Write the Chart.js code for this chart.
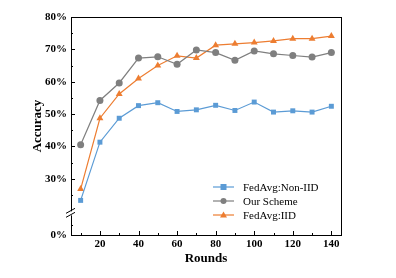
<!DOCTYPE html>
<html>
<head>
<meta charset="utf-8">
<script src="https://cdn.jsdelivr.net/npm/chart.js@4/dist/chart.umd.min.js"></script>
<style>
  html, body { margin: 0; padding: 0; background: #fff; }
  #wrap { width: 396px; height: 278px; }
</style>
</head>
<body>
<div id="wrap"><canvas id="myChart"></canvas></div>
<script>
// data
var rounds = [10, 20, 30, 40, 50, 60, 70, 80, 90, 100, 110, 120, 130, 140];
var nonIid = [23.3, 41.3, 48.7, 52.6, 53.5, 50.8, 51.3, 52.7, 51.1, 53.7, 50.6, 51.0, 50.6, 52.4];
var ourScheme = [40.5, 54.2, 59.6, 67.3, 67.7, 65.4, 69.8, 69.0, 66.6, 69.5, 68.6, 68.1, 67.6, 69.0];
var iid = [26.8, 48.7, 56.2, 61.0, 65.0, 68.0, 67.3, 71.3, 71.7, 72.1, 72.6, 73.3, 73.3, 74.1];
var seriesNames = ["FedAvg:Non-IID", "Our Scheme", "FedAvg:IID"];
var yTicks = [30, 40, 50, 60, 70, 80];
var xTicks = [20, 40, 60, 80, 100, 120, 140];

var Y_BOTTOM = 12.6; // where the "0%" label sits under the axis break
var FONT = "'Liberation Serif', 'Times New Roman', serif";

function punkty(vals) {
  var out = [];
  for (var i = 0; i < rounds.length; i++) {
    out.push({ x: rounds[i], y: vals[i] });
  }
  return out;
}

var kolory = ["#5b9bd5", "#7f7f7f", "#ed7d31"];
var ksztalty = ["rect", "circle", "triangle"];
var wartosci = [nonIid, ourScheme, iid];

var datasets = [];
for (var id = 0; id < 3; id++) {
  datasets.push({
    label: seriesNames[id],
    data: punkty(wartosci[id]),
    borderColor: kolory[id],
    backgroundColor: kolory[id],
    borderWidth: 1.2,
    pointStyle: ksztalty[id],
    pointRadius: id == 2 ? 4 : 3.5,
    pointBorderWidth: 0,
    tension: 0
  });
}

// frame, inward ticks, axis break and legend
const ramkaPlugin = {
  id: "ramka",
  afterDraw(chart) {
    var ctx = chart.ctx;
    var a = chart.chartArea;
    var xs = chart.scales.x;
    var ys = chart.scales.y;
    ctx.save();
    ctx.strokeStyle = "#000";
    ctx.lineWidth = 1;
    ctx.strokeRect(Math.round(a.left) + 0.5, Math.round(a.top) + 0.5, Math.round(a.right - a.left), Math.round(a.bottom - a.top));

    // x ticks
    for (var v = 10; v <= 140; v += 10) {
      var px = Math.round(xs.getPixelForValue(v)) + 0.5;
      var len = v % 20 == 0 ? 4 : 2;
      ctx.beginPath();
      ctx.moveTo(px, a.bottom);
      ctx.lineTo(px, a.bottom - len);
      ctx.stroke();
    }
    // y ticks
    var yT = [25, 30, 35, 40, 45, 50, 55, 60, 65, 70, 75, 80, 15.7];
    for (var i = 0; i < yT.length; i++) {
      var py = Math.round(ys.getPixelForValue(yT[i])) + 0.5;
      var ln = yT[i] % 10 == 0 ? 4 : 2;
      ctx.beginPath();
      ctx.moveTo(a.left, py);
      ctx.lineTo(a.left + ln, py);
      ctx.stroke();
    }

    // axis break
    var by = ys.getPixelForValue(19.3);
    ctx.fillStyle = "#fff";
    ctx.fillRect(a.left - 2, by - 2, 4, 4);
    ctx.lineWidth = 1;
    ctx.beginPath();
    ctx.moveTo(a.left - 5, by - 0);
    ctx.lineTo(a.left + 4, by - 5);
    ctx.moveTo(a.left - 5, by + 4);
    ctx.lineTo(a.left + 4, by - 1);
    ctx.stroke();

    // legend
    ctx.font = "11px " + FONT;
    ctx.textBaseline = "middle";
    for (var k = 0; k < 3; k++) {
      var ly = 187 + k * 14;
      ctx.strokeStyle = kolory[k];
      ctx.fillStyle = kolory[k];
      ctx.lineWidth = 1.2;
      ctx.beginPath();
      ctx.moveTo(213, ly);
      ctx.lineTo(234, ly);
      ctx.stroke();
      ctx.beginPath();
      if (k == 0) {
        ctx.rect(220.5, ly - 3, 6, 6);
      } else if (k == 1) {
        ctx.arc(223.5, ly, 3, 0, Math.PI * 2);
      } else {
        ctx.moveTo(223.5, ly - 3.5);
        ctx.lineTo(227, ly + 2.5);
        ctx.lineTo(220, ly + 2.5);
        ctx.closePath();
      }
      ctx.fill();
      ctx.fillStyle = "#000";
      ctx.fillText(seriesNames[k], 243, ly + 1);
    }
    ctx.restore();
  }
};

const config = {
  type: "line",
  data: { datasets: datasets },
  options: {
    responsive: true,
    maintainAspectRatio: false,
    animation: false,
    layout: { padding: { top: 17, right: 55, left: 0, bottom: 0 } },
    plugins: {
      legend: { display: false },
      tooltip: { enabled: false }
    },
    scales: {
      x: {
        type: "linear",
        min: 5,
        max: 145,
        afterBuildTicks: function (s) {
          s.ticks = xTicks.map(function (v) { return { value: v }; });
        },
        afterFit: function (s) { s.height = 43; },
        grid: { display: false, drawTicks: false },
        border: { display: false },
        ticks: {
          color: "#000",
          padding: 3,
          maxRotation: 0,
          font: { family: FONT, size: 11, weight: "bold" }
        },
        title: {
          display: true,
          text: "Rounds",
          color: "#000",
          padding: { top: 0, bottom: 12 },
          font: { family: FONT, size: 13, weight: "bold" }
        }
      },
      y: {
        type: "linear",
        min: Y_BOTTOM,
        max: 80,
        afterBuildTicks: function (s) {
          var t = [{ value: Y_BOTTOM }];
          for (var v of yTicks) t.push({ value: v });
          s.ticks = t;
        },
        afterFit: function (s) { s.width = 71; },
        grid: { display: false, drawTicks: false },
        border: { display: false },
        ticks: {
          color: "#000",
          padding: 4,
          font: { family: FONT, size: 11, weight: "bold" },
          callback: function (v) {
            if (v < 20) return "0%";
            return v + "%";
          }
        },
        title: {
          display: true,
          text: "Accuracy",
          color: "#000",
          padding: { top: 30, bottom: 0 },
          font: { family: FONT, size: 13, weight: "bold" }
        }
      }
    }
  },
  plugins: [ramkaPlugin]
};

new Chart(document.getElementById("myChart"), config);
</script>
</body>
</html>
